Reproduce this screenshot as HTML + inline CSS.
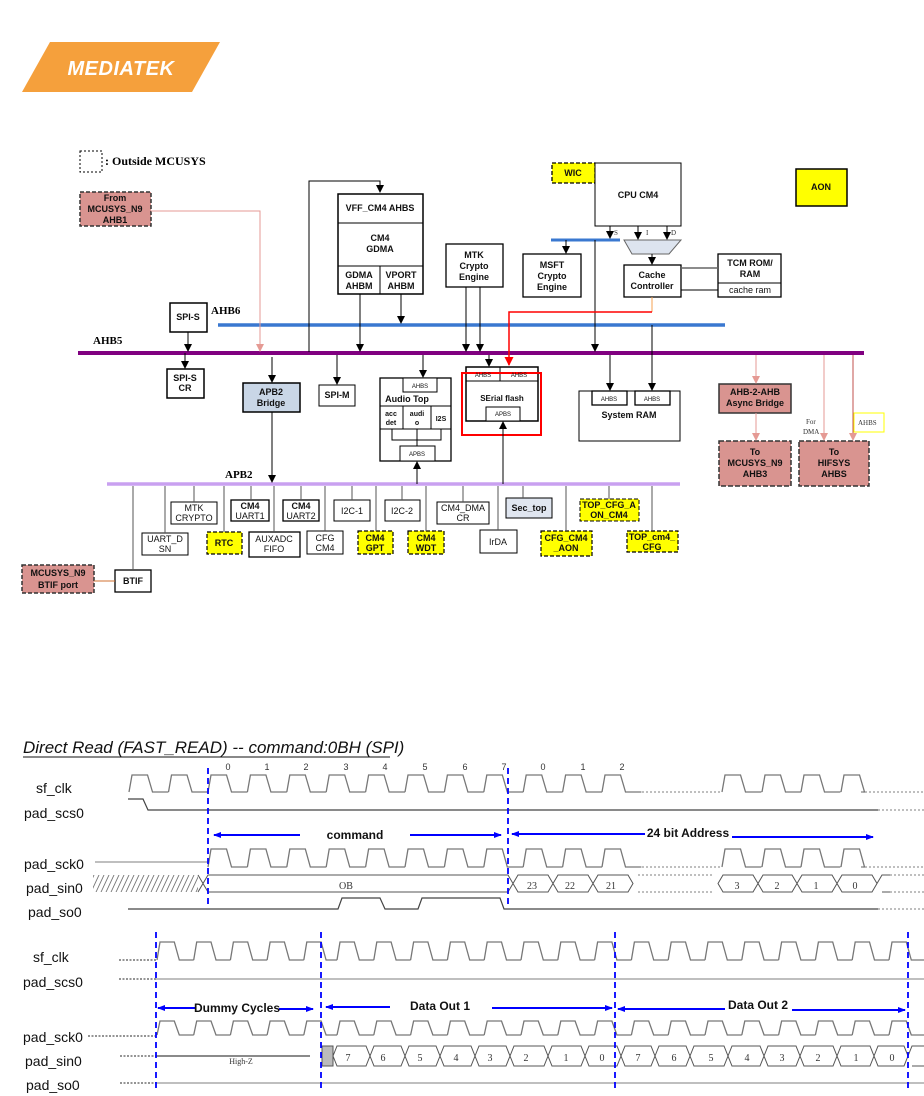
<!DOCTYPE html>
<html><head><meta charset="utf-8">
<style>
html,body{margin:0;padding:0;background:#fff;}
svg{display:block;font-family:"Liberation Sans",sans-serif;}
.b{font-weight:bold;font-size:9px;text-anchor:middle;}
.s{font-size:6px;text-anchor:middle;}
.sf{font-family:"Liberation Serif",serif;font-weight:bold;}
.lab{font-size:14px;}
</style></head><body>
<svg id="sv" width="924" height="1096" viewBox="0 0 924 1096" xmlns="http://www.w3.org/2000/svg">
<defs>
<marker id="ak" markerWidth="8" markerHeight="8" refX="7" refY="4" orient="auto" markerUnits="userSpaceOnUse"><path d="M0,0 L8,4 L0,8z" fill="#000"/></marker>
<marker id="ap" markerWidth="8" markerHeight="8" refX="7" refY="4" orient="auto" markerUnits="userSpaceOnUse"><path d="M0,0 L8,4 L0,8z" fill="#e59a94"/></marker>
<marker id="ar" markerWidth="9" markerHeight="9" refX="8" refY="4.5" orient="auto" markerUnits="userSpaceOnUse"><path d="M0,0 L9,4.5 L0,9z" fill="#f00"/></marker>
<marker id="ab" markerWidth="8" markerHeight="8" refX="7" refY="4" orient="auto" markerUnits="userSpaceOnUse"><path d="M0,1 L8,4 L0,7z" fill="#00f"/></marker>
<pattern id="hat" width="5" height="18" patternUnits="userSpaceOnUse" patternTransform="skewX(-25)"><line x1="2" y1="0" x2="2" y2="18" stroke="#555" stroke-width="0.8"/></pattern>
</defs>
<polygon points="50,42 220,42 192,92 22,92" fill="#f5a03c"/>
<text x="121" y="75" fill="#fff" font-size="20" font-weight="bold" font-style="italic" text-anchor="middle" letter-spacing="0.5">MEDIATEK</text>

<rect x="80" y="151" width="22" height="21" fill="none" stroke="#000" stroke-dasharray="2,2"/>
<text x="105" y="165" class="sf" font-size="12">: Outside MCUSYS</text>

<g stroke="#000" stroke-width="1" fill="none">
<line x1="218" y1="325" x2="725" y2="325" stroke="#3a78d0" stroke-width="3.5"/>
<line x1="78" y1="353" x2="864" y2="353" stroke="#800080" stroke-width="4"/>
<line x1="107" y1="484" x2="680" y2="484" stroke="#c9a0f0" stroke-width="3.5"/>
<line x1="551" y1="240" x2="620" y2="240" stroke="#3a78d0" stroke-width="3"/>
</g>
<g font-size="11" class="sf"><text x="93" y="344">AHB5</text><text x="211" y="314">AHB6</text><text x="225" y="478">APB2</text></g>

<g stroke="#000" stroke-width="1" fill="#fff">
<rect x="80" y="192" width="71" height="34" fill="#d99490" stroke="#333" stroke-width="1.5" stroke-dasharray="4,2"/>
<rect x="338" y="194" width="85" height="100" stroke-width="1.5"/>
<line x1="338" y1="223" x2="423" y2="223"/><line x1="338" y1="266" x2="423" y2="266"/><line x1="380" y1="266" x2="380" y2="294"/>
<rect x="170" y="303" width="37" height="29" stroke-width="1.5"/>
<rect x="167" y="369" width="37" height="29" stroke-width="1.5"/>
<rect x="243" y="383" width="57" height="29" fill="#c9d6e6" stroke-width="1.5"/>
<rect x="319" y="385" width="36" height="21"/>
<rect x="380" y="378" width="71" height="83" stroke-width="1.3"/>
<rect x="403" y="378" width="34" height="14"/>
<line x1="380" y1="406" x2="451" y2="406"/><line x1="380" y1="429" x2="451" y2="429"/>
<line x1="403" y1="406" x2="403" y2="429"/><line x1="431" y1="406" x2="431" y2="429"/>
<polyline points="392,429 392,440 441,440 441,429" fill="none"/><line x1="417" y1="429" x2="417" y2="446"/>
<rect x="400" y="446" width="35" height="15"/>
<rect x="446" y="244" width="57" height="43" stroke-width="1.3"/>
<rect x="523" y="254" width="58" height="43" stroke-width="1.3"/>
<rect x="552" y="163" width="43" height="20" fill="#ffff00" stroke-dasharray="4,2" stroke-width="1.3"/>
<rect x="595" y="163" width="86" height="63"/>
<polygon points="624,240 681,240 669,254 632,254" fill="#dde4ef" stroke="#666"/>
<rect x="624" y="265" width="57" height="32" stroke-width="1.3"/>
<rect x="718" y="254" width="63" height="43" stroke-width="1.3"/><line x1="718" y1="283" x2="781" y2="283"/>
<line x1="681" y1="268" x2="718" y2="268" stroke="#666" stroke-width="1.5"/><line x1="681" y1="290" x2="718" y2="290"/>
<rect x="796" y="169" width="51" height="37" fill="#ffff00" stroke-width="1.5"/>
<rect x="466" y="367" width="72" height="54" stroke-width="1.5"/>
<line x1="466" y1="381" x2="538" y2="381"/><line x1="500" y1="367" x2="500" y2="381"/>
<rect x="486" y="407" width="34" height="14"/>
<rect x="462" y="373" width="79" height="62" fill="none" stroke="#f00" stroke-width="2"/>
<rect x="579" y="391" width="101" height="50"/>
<rect x="592" y="391" width="35" height="14" stroke-width="1.3"/><rect x="635" y="391" width="35" height="14" stroke-width="1.3"/>
<rect x="719" y="384" width="72" height="29" fill="#d99490" stroke="#333" stroke-width="1.5"/>
<rect x="719" y="441" width="72" height="45" fill="#d99490" stroke="#333" stroke-width="1.5" stroke-dasharray="5,2"/>
<rect x="799" y="441" width="70" height="45" fill="#d99490" stroke="#333" stroke-width="1.5" stroke-dasharray="5,2"/>
<rect x="854" y="413" width="30" height="19" stroke="#ff0"/>
<rect x="171" y="502" width="46" height="22"/>
<rect x="231" y="500" width="38" height="21" stroke-width="1.3"/>
<rect x="283" y="500" width="36" height="21" stroke-width="1.3"/>
<rect x="334" y="500" width="36" height="21"/>
<rect x="385" y="500" width="35" height="21"/>
<rect x="437" y="502" width="52" height="22"/>
<rect x="506" y="498" width="46" height="20" fill="#e0e6f0"/>
<rect x="580" y="499" width="59" height="22" fill="#ffff00" stroke-dasharray="4,2"/>
<rect x="142" y="533" width="46" height="22"/>
<rect x="207" y="532" width="35" height="22" fill="#ffff00" stroke-dasharray="4,2" stroke-width="1.2"/>
<rect x="249" y="532" width="51" height="25" stroke-width="1.3"/>
<rect x="307" y="531" width="36" height="23"/>
<rect x="358" y="531" width="35" height="23" fill="#ffff00" stroke-dasharray="4,2" stroke-width="1.2"/>
<rect x="408" y="531" width="36" height="23" fill="#ffff00" stroke-dasharray="4,2" stroke-width="1.2"/>
<rect x="480" y="530" width="37" height="23"/>
<rect x="541" y="531" width="51" height="25" fill="#ffff00" stroke-dasharray="4,2" stroke-width="1.2"/>
<rect x="627" y="531" width="51" height="21" fill="#ffff00" stroke-dasharray="4,2" stroke-width="1.2"/>
<rect x="115" y="570" width="36" height="22" stroke-width="1.3"/>
<rect x="22" y="565" width="72" height="28" fill="#d99490" stroke="#333" stroke-width="1.5" stroke-dasharray="4,2"/>
</g>

<g stroke="#000" stroke-width="1" fill="none">
<polyline points="309,352 309,181 380,181 380,192" marker-end="url(#ak)"/>
<line x1="188" y1="332" x2="188" y2="351" marker-end="url(#ak)"/>
<line x1="185" y1="353" x2="185" y2="368" marker-end="url(#ak)"/>
<line x1="272" y1="357" x2="272" y2="382" marker-end="url(#ak)"/>
<line x1="272" y1="412" x2="272" y2="482" marker-end="url(#ak)"/>
<line x1="360" y1="294" x2="360" y2="351" marker-end="url(#ak)"/>
<line x1="401" y1="294" x2="401" y2="323" marker-end="url(#ak)"/>
<line x1="337" y1="355" x2="337" y2="384" marker-end="url(#ak)"/>
<line x1="423" y1="355" x2="423" y2="377" marker-end="url(#ak)"/>
<line x1="417" y1="484" x2="417" y2="462" marker-end="url(#ak)"/>
<line x1="466" y1="287" x2="466" y2="351" marker-end="url(#ak)"/>
<line x1="480" y1="287" x2="480" y2="351" marker-end="url(#ak)"/>
<line x1="489" y1="355" x2="489" y2="366" marker-end="url(#ak)"/>
<line x1="503" y1="484" x2="503" y2="422" marker-end="url(#ak)"/>
<line x1="566" y1="240" x2="566" y2="253" marker-end="url(#ak)"/>
<line x1="595" y1="240" x2="595" y2="351" marker-end="url(#ak)"/>
<line x1="610" y1="226" x2="610" y2="238" marker-end="url(#ak)"/>
<line x1="638" y1="226" x2="638" y2="239" marker-end="url(#ak)"/>
<line x1="667" y1="226" x2="667" y2="239" marker-end="url(#ak)"/>
<line x1="652" y1="254" x2="652" y2="264" marker-end="url(#ak)"/>
<line x1="610" y1="355" x2="610" y2="390" marker-end="url(#ak)"/>
<line x1="652" y1="325" x2="652" y2="390" marker-end="url(#ak)"/>
<polyline points="151,211 260,211 260,351" stroke="#e59a94" marker-end="url(#ap)"/>
<line x1="756" y1="355" x2="756" y2="383" stroke="#e59a94" marker-end="url(#ap)"/>
<line x1="756" y1="413" x2="756" y2="440" stroke="#e59a94" marker-end="url(#ap)"/>
<line x1="824" y1="355" x2="824" y2="440" stroke="#e59a94" marker-end="url(#ap)"/>
<line x1="853" y1="355" x2="853" y2="440" stroke="#c0504d" marker-end="url(#ap)"/>
<line x1="652" y1="297" x2="652" y2="312" stroke="#f5a050"/>
<polyline points="652,312 509,312 509,365" stroke="#f00" stroke-width="1.5" marker-end="url(#ar)"/>
<line x1="94" y1="581" x2="115" y2="581" stroke="#d07030"/>
<g stroke="#555">
<line x1="194" y1="486" x2="194" y2="502"/><line x1="251" y1="486" x2="251" y2="500"/><line x1="301" y1="486" x2="301" y2="500"/>
<line x1="352" y1="486" x2="352" y2="500"/><line x1="402" y1="486" x2="402" y2="500"/><line x1="463" y1="486" x2="463" y2="502"/>
<line x1="523" y1="486" x2="523" y2="498"/><line x1="609" y1="486" x2="609" y2="499"/><line x1="165" y1="486" x2="165" y2="533"/>
<line x1="224" y1="486" x2="224" y2="532"/><line x1="274" y1="486" x2="274" y2="532"/><line x1="325" y1="486" x2="325" y2="531"/>
<line x1="376" y1="486" x2="376" y2="531"/><line x1="426" y1="486" x2="426" y2="531"/><line x1="498" y1="486" x2="498" y2="530"/>
<line x1="566" y1="486" x2="566" y2="531"/><line x1="652" y1="486" x2="652" y2="531"/><line x1="133" y1="486" x2="133" y2="570"/>
</g>
</g>

<g class="b" fill="#111">
<text x="115" y="201">From</text><text x="115" y="212">MCUSYS_N9</text><text x="115" y="223">AHB1</text>
<text x="380" y="211">VFF_CM4 AHBS</text><text x="380" y="241">CM4</text><text x="380" y="252">GDMA</text>
<text x="359" y="278">GDMA</text><text x="359" y="289">AHBM</text><text x="401" y="278">VPORT</text><text x="401" y="289">AHBM</text>
<text x="188" y="320">SPI-S</text><text x="185" y="381">SPI-S</text><text x="185" y="391">CR</text>
<text x="271" y="395">APB2</text><text x="271" y="406">Bridge</text><text x="337" y="398">SPI-M</text>
<text x="407" y="402">Audio Top</text>
<text x="391" y="416" font-size="7">acc</text><text x="391" y="425" font-size="7">det</text>
<text x="417" y="416" font-size="7">audi</text><text x="417" y="425" font-size="7">o</text><text x="441" y="421" font-size="7">I2S</text>
<text x="474" y="258">MTK</text><text x="474" y="269">Crypto</text><text x="474" y="280">Engine</text>
<text x="552" y="268">MSFT</text><text x="552" y="279">Crypto</text><text x="552" y="290">Engine</text>
<text x="573" y="176">WIC</text><text x="638" y="198">CPU CM4</text>
<text x="652" y="278">Cache</text><text x="652" y="289">Controller</text>
<text x="750" y="266">TCM ROM/</text><text x="750" y="277">RAM</text><text x="750" y="293" font-weight="normal">cache ram</text>
<text x="821" y="190">AON</text>
<text x="502" y="401" font-size="8">SErial flash</text>
<text x="629" y="418">System RAM</text>
<text x="755" y="395">AHB-2-AHB</text><text x="755" y="406">Async Bridge</text>
<text x="755" y="455">To</text><text x="755" y="466">MCUSYS_N9</text><text x="755" y="477">AHB3</text>
<text x="834" y="455">To</text><text x="834" y="466">HIFSYS</text><text x="834" y="477">AHBS</text>
<text x="194" y="511" font-weight="normal">MTK</text><text x="194" y="521" font-weight="normal">CRYPTO</text>
<text x="250" y="509">CM4</text><text x="250" y="519" font-weight="normal">UART1</text>
<text x="301" y="509">CM4</text><text x="301" y="519" font-weight="normal">UART2</text>
<text x="352" y="514" font-weight="normal">I2C-1</text><text x="402" y="514" font-weight="normal">I2C-2</text>
<text x="463" y="511" font-weight="normal">CM4_DMA</text><text x="463" y="521" font-weight="normal">CR</text>
<text x="529" y="511">Sec_top</text>
<text x="609" y="508">TOP_CFG_A</text><text x="609" y="518">ON_CM4</text>
<text x="165" y="542" font-weight="normal">UART_D</text><text x="165" y="552" font-weight="normal">SN</text>
<text x="224" y="546">RTC</text>
<text x="274" y="542" font-weight="normal">AUXADC</text><text x="274" y="552" font-weight="normal">FIFO</text>
<text x="325" y="541" font-weight="normal">CFG</text><text x="325" y="551" font-weight="normal">CM4</text>
<text x="375" y="541">CM4</text><text x="375" y="551">GPT</text>
<text x="426" y="541">CM4</text><text x="426" y="551">WDT</text>
<text x="498" y="545" font-weight="normal">IrDA</text>
<text x="566" y="541">CFG_CM4</text><text x="566" y="551">_AON</text>
<text x="652" y="540">TOP_cm4_</text><text x="652" y="550">CFG</text>
<text x="133" y="584">BTIF</text>
<text x="58" y="576">MCUSYS_N9</text><text x="58" y="588">BTIF port</text>
</g>
<g class="s" fill="#111">
<text x="420" y="388">AHBS</text><text x="417" y="456">APBS</text>
<text x="483" y="377">AHBS</text><text x="519" y="377">AHBS</text><text x="503" y="416">APBS</text>
<text x="609" y="401">AHBS</text><text x="652" y="401">AHBS</text>
</g>
<g font-family="Liberation Serif,serif" font-size="7" fill="#333">
<text x="614" y="235">S</text><text x="646" y="235">I</text><text x="671" y="235">D</text>
<text x="806" y="424">For</text><text x="803" y="434">DMA</text><text x="858" y="425">AHBS</text>
</g>

<text x="23" y="753" font-size="17" font-style="italic" fill="#111">Direct Read (FAST_READ)  -- command:0BH (SPI)</text>
<line x1="23" y1="757" x2="390" y2="757" stroke="#111" stroke-width="1"/>
<g class="lab" fill="#111">
<text x="36" y="793">sf_clk</text><text x="24" y="818">pad_scs0</text><text x="24" y="869">pad_sck0</text><text x="26" y="893">pad_sin0</text><text x="28" y="917">pad_so0</text>
<text x="33" y="962">sf_clk</text><text x="23" y="987">pad_scs0</text><text x="23" y="1042">pad_sck0</text><text x="25" y="1066">pad_sin0</text><text x="26" y="1090">pad_so0</text>
</g>
<g font-size="9" fill="#333" text-anchor="middle">
<text x="228" y="770">0</text><text x="267" y="770">1</text><text x="306" y="770">2</text><text x="346" y="770">3</text><text x="385" y="770">4</text><text x="425" y="770">5</text><text x="465" y="770">6</text><text x="504" y="770">7</text>
<text x="543" y="770">0</text><text x="583" y="770">1</text><text x="622" y="770">2</text>
</g>
<g id="waves"></g>
<g font-size="12" font-weight="bold" fill="#111" text-anchor="middle">
<text x="355" y="839">command</text><text x="688" y="837">24 bit Address</text>
<text x="237" y="1012">Dummy Cycles</text><text x="440" y="1010">Data Out 1</text><text x="758" y="1009">Data Out 2</text>
</g>
<g font-family="Liberation Serif,serif" font-size="10" fill="#333" text-anchor="middle">
<text x="346" y="889">OB</text>
<text x="532" y="889">23</text><text x="570" y="889">22</text><text x="611" y="889">21</text>
<text x="737" y="889">3</text><text x="777" y="889">2</text><text x="816" y="889">1</text><text x="855" y="889">0</text>
<text x="241" y="1064" font-size="8">High-Z</text>
<text x="348" y="1061">7</text><text x="383" y="1061">6</text><text x="420" y="1061">5</text><text x="456" y="1061">4</text><text x="490" y="1061">3</text><text x="526" y="1061">2</text><text x="566" y="1061">1</text><text x="602" y="1061">0</text>
<text x="638" y="1061">7</text><text x="674" y="1061">6</text><text x="711" y="1061">5</text><text x="747" y="1061">4</text><text x="782" y="1061">3</text><text x="818" y="1061">2</text><text x="856" y="1061">1</text><text x="892" y="1061">0</text>
</g>
</svg>
<script>
(function(){
var g=document.getElementById('waves'),NS='http://www.w3.org/2000/svg';
function el(t,a){var e=document.createElementNS(NS,t);for(var k in a)e.setAttribute(k,a[k]);g.appendChild(e);return e;}
function clk(rises,hi,lo,period,end){var d='';rises.forEach(function(x,i){var w=period*0.47;var nx=(i<rises.length-1)?Math.min(rises[i+1],x+period):(end||x+period);d+='M'+x+','+lo+'L'+(x+3)+','+hi+'L'+(x+w)+','+hi+'L'+(x+w+5)+','+lo+'L'+nx+','+lo;});el('path',{d:d,stroke:'#777',fill:'none','stroke-width':1.3});}
function ln(x1,y1,x2,y2,c,da,w){el('line',{x1:x1,y1:y1,x2:x2,y2:y2,stroke:c||'#777','stroke-width':w||1.2,'stroke-dasharray':da||'none'});}
var p=39.4,r=[],i;
r=[129,168.5];for(i=0;i<11;i++)r.push(208+p*i);
clk(r,775,792,p);
ln(642,792,722,792,'#999','2,2');clk([722,762,801,841],775,792,p,861);ln(861,792,924,792,'#999','2,2');
el('path',{d:'M128,799 L143,799 L148,810 L878,810',stroke:'#444',fill:'none','stroke-width':1.2});ln(878,810,924,810,'#999','2,2');
ln(95,862,208,862,'#999');r=[];for(i=0;i<11;i++)r.push(208+p*i);clk(r,849,867,p);ln(642,867,722,867,'#999','2,2');clk([722,762,801,841],849,867,p,861);ln(861,867,924,867,'#999','2,2');
el('rect',{x:93,y:875,width:105,height:17,fill:'url(#hat)'});
var d='M198,875 L203,883.5 L198,892 M203,883.5 L208,875 L508,875 L513,883.5 L508,892 L208,892 L203,883.5';
var xs=[513,553,593,633];
xs.forEach(function(x,k){if(k<3)d+=' M'+x+',883.5 L'+(x+5)+',875 L'+(xs[k+1]-5)+',875 L'+xs[k+1]+',883.5 L'+(xs[k+1]-5)+',892 L'+(x+5)+',892 Z';});
var ys=[718,758,797,837,877];
ys.forEach(function(x,k){if(k<4)d+=' M'+x+',883.5 L'+(x+5)+',875 L'+(ys[k+1]-5)+',875 L'+ys[k+1]+',883.5 L'+(ys[k+1]-5)+',892 L'+(x+5)+',892 Z';});
d+=' M877,883.5 L882,875 L890,875 M882,892 L890,892';
el('path',{d:d,stroke:'#555',fill:'none','stroke-width':1});
ln(638,875,713,875,'#999','2,2');ln(638,892,713,892,'#999','2,2');ln(890,875,924,875,'#999','2,2');ln(890,892,924,892,'#999','2,2');
el('path',{d:'M128,909 L338,909 L342,898 L380,898 L385,909 L418,909 L422,898 L500,898 L504,909 L878,909',stroke:'#444',fill:'none','stroke-width':1.2});ln(878,909,924,909,'#999','2,2');
[208,508].forEach(function(x){ln(x,768,x,908,'#00f','6,4',1.8);});
el('line',{x1:300,y1:835,x2:214,y2:835,stroke:'#00f','stroke-width':2,'marker-end':'url(#ab)'});
el('line',{x1:410,y1:835,x2:501,y2:835,stroke:'#00f','stroke-width':2,'marker-end':'url(#ab)'});
el('line',{x1:645,y1:834,x2:512,y2:834,stroke:'#00f','stroke-width':2,'marker-end':'url(#ab)'});
el('line',{x1:732,y1:837,x2:873,y2:837,stroke:'#00f','stroke-width':2,'marker-end':'url(#ab)'});
var q=36.8,r2=[];for(i=0;i<5;i++)r2.push(157+36.7*i);for(i=0;i<16;i++)r2.push(337+q*i);
ln(119,960,156,960,'#555','2,1.5');clk(r2,942,960,q,924);
ln(119,979,156,979,'#555','2,1.5');ln(156,979,924,979,'#999');
ln(88,1036,156,1036,'#555','2,1.5');clk(r2,1021,1035,q,924);
ln(120,1056,156,1056,'#555','2,1.5');ln(156,1056,310,1056,'#444');
el('rect',{x:322,y:1046,width:11,height:20,fill:'#bbb',stroke:'#555'});
var cx=[333,370,405,440,475,510,548,585,621,655,690,728,764,800,837,874,908];
var dd='';for(i=0;i<cx.length-1;i++){var a=cx[i],b=cx[i+1];dd+=' M'+a+',1056 L'+(a+4)+',1046 L'+(b-4)+',1046 L'+b+',1056 L'+(b-4)+',1066 L'+(a+4)+',1066 Z';}
dd+=' M908,1056 L912,1046 L924,1046 M912,1066 L924,1066';
el('path',{d:dd,stroke:'#555',fill:'none','stroke-width':1});
ln(120,1083,156,1083,'#555','2,1.5');ln(156,1083,924,1083,'#999');
[156,321,615,908].forEach(function(x){ln(x,932,x,1092,'#00f','6,4',1.8);});
el('line',{x1:195,y1:1008,x2:158,y2:1008,stroke:'#00f','stroke-width':2,'marker-end':'url(#ab)'});
el('line',{x1:279,y1:1009,x2:313,y2:1009,stroke:'#00f','stroke-width':2,'marker-end':'url(#ab)'});
el('line',{x1:390,y1:1007,x2:326,y2:1007,stroke:'#00f','stroke-width':2,'marker-end':'url(#ab)'});
el('line',{x1:492,y1:1008,x2:612,y2:1008,stroke:'#00f','stroke-width':2,'marker-end':'url(#ab)'});
el('line',{x1:725,y1:1009,x2:618,y2:1009,stroke:'#00f','stroke-width':2,'marker-end':'url(#ab)'});
el('line',{x1:792,y1:1010,x2:905,y2:1010,stroke:'#00f','stroke-width':2,'marker-end':'url(#ab)'});
})();
</script>
</body></html>
